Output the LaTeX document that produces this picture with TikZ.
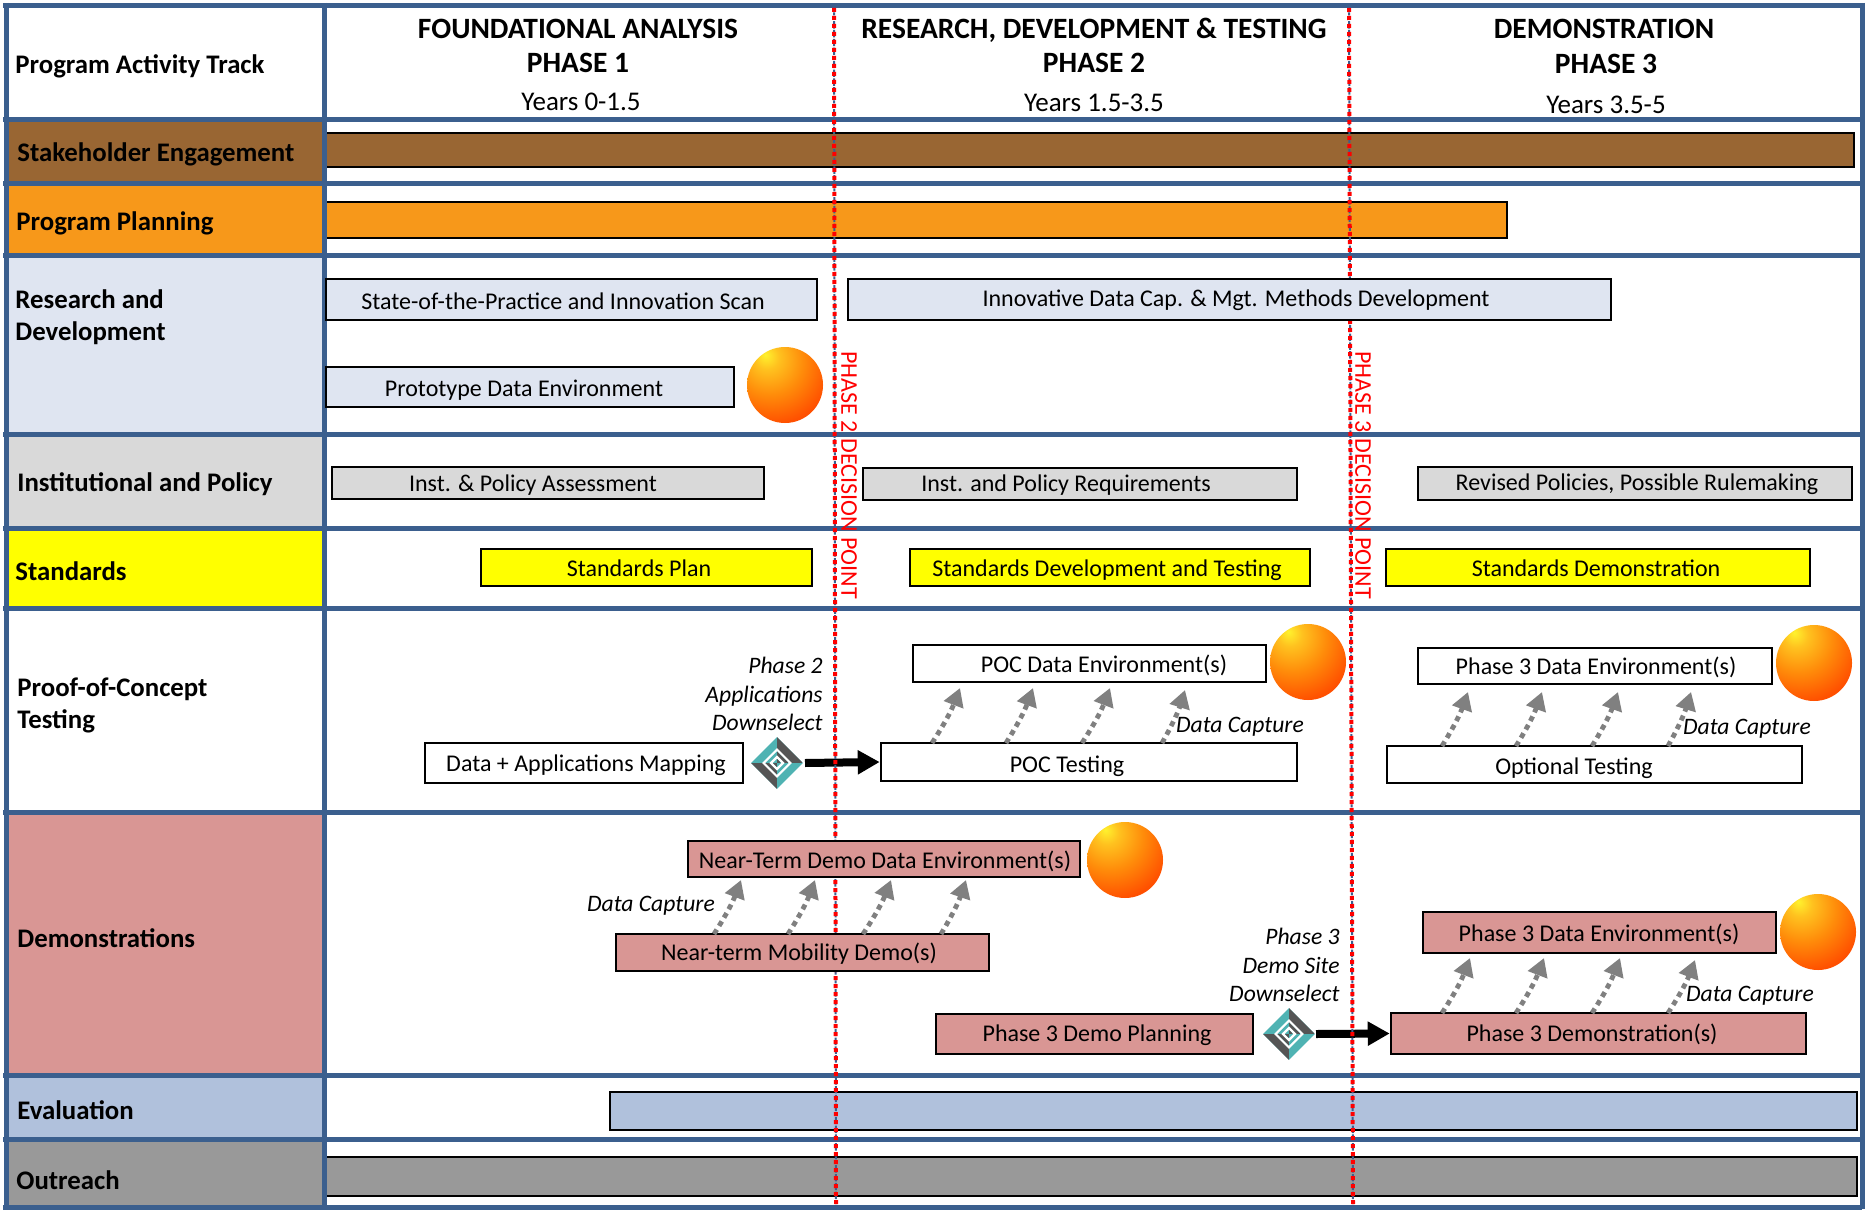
\documentclass[tikz,border=0pt]{standalone}
\usepackage{fontspec}
\setmainfont{Carlito}
\usetikzlibrary{arrows.meta,shapes.geometric,fit}
\definecolor{gridblue}{HTML}{3B5F8E}
\definecolor{brownfill}{HTML}{996633}
\definecolor{orangefill}{HTML}{F7981A}
\definecolor{rdfill}{HTML}{DFE5F1}
\definecolor{instfill}{HTML}{D9D9D9}
\definecolor{stdfill}{HTML}{FFFF00}
\definecolor{demofill}{HTML}{D99694}
\definecolor{evalfill}{HTML}{B0C1DC}
\definecolor{outfill}{HTML}{999999}
\definecolor{selteal}{HTML}{4FB3B3}
\definecolor{selgray}{HTML}{555555}
\definecolor{decred}{HTML}{FF0000}
\definecolor{balla}{HTML}{FFF22E}
\definecolor{ballb}{HTML}{FFC21F}
\definecolor{ballc}{HTML}{FF8C0A}
\definecolor{balld}{HTML}{FF5000}
\pgfdeclareradialshading{orangeball}{\pgfpoint{-13bp}{20bp}}{color(0bp)=(balla);color(8bp)=(ballb);color(22bp)=(ballc);color(38bp)=(balld);color(100bp)=(balld)}
\tikzstyle{cell}=[inner sep=0pt,draw=none]
\tikzstyle{bar}=[inner sep=0pt,draw=black,line width=1.3pt]
\tikzstyle{tracklabel}=[font=\fontsize{13.4}{16}\selectfont\bfseries,align=left,anchor=west,inner sep=0pt]
\tikzstyle{boxlabel}=[font=\fontsize{12}{14}\selectfont,inner sep=0pt]
\tikzstyle{phasehead}=[font=\fontsize{14.75}{16}\selectfont\bfseries,inner sep=0pt]
\tikzstyle{years}=[font=\fontsize{13.5}{14}\selectfont,inner sep=0pt]
\tikzstyle{note}=[font=\fontsize{11.8}{14.3}\selectfont\itshape,align=right,inner sep=0pt]
\tikzstyle{ball}=[circle,shading=orangeball,minimum size=38pt,inner sep=0pt]
\tikzstyle{capture}=[draw=black!50,line width=2.4pt,dash pattern=on 2.6pt off 2.2pt,-{Triangle[length=9pt,width=10pt,fill=black!50]}]
\tikzstyle{moveon}=[draw=black,line width=4pt,-{Triangle[length=11pt,width=11.5pt]}]
\tikzstyle{decisionred}=[draw=decred,line width=2pt,dash pattern=on 2pt off 2pt]
\tikzstyle{decisionblue}=[draw=gridblue,line width=1pt,dash pattern=on 1.5pt off 0.7pt]
\tikzstyle{decisiontext}=[font=\fontsize{12}{14}\selectfont,text=decred,rotate=-90,inner sep=0pt]
\tikzstyle{selmark}=[diamond,minimum size=26pt,inner sep=0pt,fill=selteal,path picture={
    \fill[selgray] (path picture bounding box.center) rectangle (path picture bounding box.north east);
    \fill[selgray] (path picture bounding box.center) rectangle (path picture bounding box.south west);}]
\begin{document}
\begin{tikzpicture}[x=0.5pt,y=-0.5pt]
    \useasboundingbox (0,0) rectangle (1872,1209);
    \fill[white] (0,0) rectangle (1872,1209);

    % left column
    \foreach \ya/\yb/\col/\name in {120/184/brownfill/cellstake, 184/255/orangefill/cellplan, 255/434/rdfill/cellrd, 434/528/instfill/cellinst, 528/608/stdfill/cellstd, 812/1075/demofill/celldemo, 1075/1139/evalfill/celleval, 1139/1207/outfill/cellout}
        \node[cell, fill=\col, fit={(6,\ya) (324,\yb)}] (\name) {};

    % bars with no text
    \node[bar, fill=brownfill, fit={(324,133) (1854,167)}] (barstake) {};
    \node[bar, fill=orangefill, fit={(324,202) (1507,238)}] (barplan) {};
    \node[bar, fill=evalfill, fit={(610,1092) (1857,1130)}] (bareval) {};
    \node[bar, fill=outfill, fit={(324,1157) (1857,1196)}] (barout) {};

    % grid
    \foreach \y in {6,120,184,255,434,528,608,812,1075,1139,1207}
        \draw[gridblue, line width=2.5pt] (3,\y) -- (1862,\y);
    \draw[gridblue, line width=2.5pt] (6,3) -- (6,1209);
    \draw[gridblue, line width=2.5pt] (324,3) -- (324,1209);
    \draw[gridblue, line width=2.5pt] (1862,3) -- (1862,1209);

    \node[tracklabel] (trackhead) at (15,66) {Program Activity Track};
    \foreach \pos/\name/\label in {{(17,154)/tstake/Stakeholder Engagement}, {(16,223)/tplan/Program Planning}, {(15,317)/trd/Research and\\Development}, {(17,484)/tinst/Institutional and Policy}, {(15,571)/tstd/Standards}, {(17,705)/tpoc/Proof-of-Concept\\Testing}, {(17,938)/tdemo/Demonstrations}, {(17,1110)/teval/Evaluation}, {(16,1180)/tout/Outreach}}
        \node[tracklabel] (\name) at \pos {\label};

    % phase headings
    \foreach \x/\y/\name/\label in {578/29/h1a/{FOUNDATIONAL ANALYSIS}, 578/63/h1b/{PHASE 1}, 1094/30/h2a/{RESEARCH, DEVELOPMENT \& TESTING}, 1094/63/h2b/{PHASE 2}, 1604/29/h3a/{DEMONSTRATION}, 1606/64/h3b/{PHASE 3}}
        \node[phasehead] (\name) at (\x,\y) {\label};
    \foreach \x/\y/\name/\label in {581/102/y1/{Years 0-1.5}, 1094/103/y2/{Years 1.5-3.5}, 1606/105/y3/{Years 3.5-5}}
        \node[years] (\name) at (\x,\y) {\label};

    % boxes clear of the decision lines
    \foreach \xa/\ya/\xb/\yb/\col/\name/\tx/\ty/\label in {
        326/279/817/320/rdfill/bscan/563/301/{State-of-the-Practice and Innovation Scan},
        326/367/734/407/rdfill/bproto/524/390/{Prototype Data Environment},
        332/467/764/499/instfill/binst/533/485/{Inst. \& Policy Assessment},
        863/468/1297/500/instfill/breq/1066/485/{Inst. and Policy Requirements},
        1418/467/1852/500/instfill/brev/1637/484/{Revised Policies, Possible Rulemaking},
        481/549/812/586/stdfill/bstdp/639/568/{Standards Plan},
        910/549/1310/586/stdfill/bstdd/1107/570/{Standards Development and Testing},
        1386/549/1810/586/stdfill/bstdm/1596/568/{Standards Demonstration},
        913/645/1266/682/white/bpocenv/1104/665/{POC Data Environment(s)},
        1418/648/1772/684/white/bp3env/1596/667/{Phase 3 Data Environment(s)},
        425/743/743/783/white/bmap/586/765/{Data + Applications Mapping},
        881/743/1297/781/white/bpoct/1067/766/{POC Testing},
        1387/746/1802/783/white/bopt/1574/768/{Optional Testing},
        936/1014/1253/1054/demofill/bplan3/1097/1035/{Phase 3 Demo Planning},
        1423/912/1776/953/demofill/bd3env/1599/934/{Phase 3 Data Environment(s)},
        1391/1013/1806/1054/demofill/bd3/1592/1034/{Phase 3 Demonstration(s)}}
    {
        \node[bar, fill=\col, fit={(\xa,\ya) (\xb,\yb)}] (\name) {};
        \node[boxlabel] (\name t) at (\tx,\ty) {\label};
    }

    % balls
    \foreach \pos/\name in {{(785,385)/ballproto}, {(1308,662)/ballpoc}, {(1814,663)/ballp3}, {(1125,860)/ballnear}, {(1818,932)/balld3}}
        \node[ball] (\name) at \pos {};

    % downselect marks
    \foreach \pos/\name in {{(777,763)/sela}, {(1289,1034)/selb}} {
        \node[selmark] (\name) at \pos {};
        \node[diamond, fill=white, minimum size=15pt, inner sep=0pt] at (\name) {};
        \node[selmark, minimum size=11.7pt] at (\name) {};
        \node[diamond, fill=white, minimum size=7.7pt, inner sep=0pt] at (\name) {};
        \node[selmark, minimum size=4.3pt] at (\name) {};
    }
    \draw[moveon] (sela) ++(28,0) coordinate (selas) (selas) -- (bpoct.west);
    \draw[moveon] (selb) ++(27,0) coordinate (selbs) (selbs) -- (bd3.west);

    % decision lines
    \coordinate (d2a) at (834,8);
    \coordinate (d2b) at (836,1207);
    \coordinate (d3a) at (1349,8);
    \coordinate (d3b) at (1353,1207);
    \draw[decisionblue] (d2a) -- (d2b);
    \draw[decisionblue] (d3a) -- (d3b);
    \draw[decisionred] (d2a) -- (d2b);
    \draw[decisionred] (d3a) -- (d3b);
    \node[decisiontext] (dt2) at (849,475) {PHASE 2 DECISION POINT};
    \node[decisiontext] (dt3) at (1363,475) {PHASE 3 DECISION POINT};

    % boxes that cover the decision lines
    \foreach \xa/\ya/\xb/\yb/\col/\name/\tx/\ty/\label in {
        848/279/1611/320/rdfill/binno/1236/300/{Innovative Data Cap. \& Mgt. Methods Development},
        688/841/1080/877/demofill/bnearenv/885/861/{Near-Term Demo Data Environment(s)},
        616/934/989/971/demofill/bmob/799/954/{Near-term Mobility Demo(s)}}
    {
        \node[bar, fill=\col, fit={(\xa,\ya) (\xb,\yb)}] (\name) {};
        \node[boxlabel] (\name t) at (\tx,\ty) {\label};
    }

    % data capture
    \foreach \xa/\ya/\xb/\yb/\name in {932/743/960/688/ca, 1006/743/1033/688/cb, 1082/743/1110/688/cc, 1162/743/1185/690/cd,
        1442/746/1468/692/ce, 1516/746/1542/692/cf, 1592/746/1618/692/cg, 1668/746/1691/692/ch,
        714/934/741/880/ci, 788/934/815/880/cj, 863/934/891/880/ck, 941/934/966/880/cl,
        1442/1013/1470/958/cm, 1516/1013/1544/958/cn, 1592/1013/1620/958/co, 1668/1013/1695/960/cp}
    {
        \coordinate (\name s) at (\xa,\ya);
        \coordinate (\name e) at (\xb,\yb);
        \draw[capture] (\name s) to[bend right=6] (\name e);
    }
    \foreach \pos/\name in {{(1240,727)/npoc}, {(1747,729)/nopt}, {(651,906)/nnear}, {(1750,996)/nd3}}
        \node[note] (\name) at \pos {Data Capture};
    \node[note, anchor=east] (nsel2) at (823,694) {Phase 2\\Applications\\Downselect};
    \node[note, anchor=east] (nsel3) at (1340,965) {Phase 3\\Demo Site\\Downselect};

\end{tikzpicture}
\end{document}
